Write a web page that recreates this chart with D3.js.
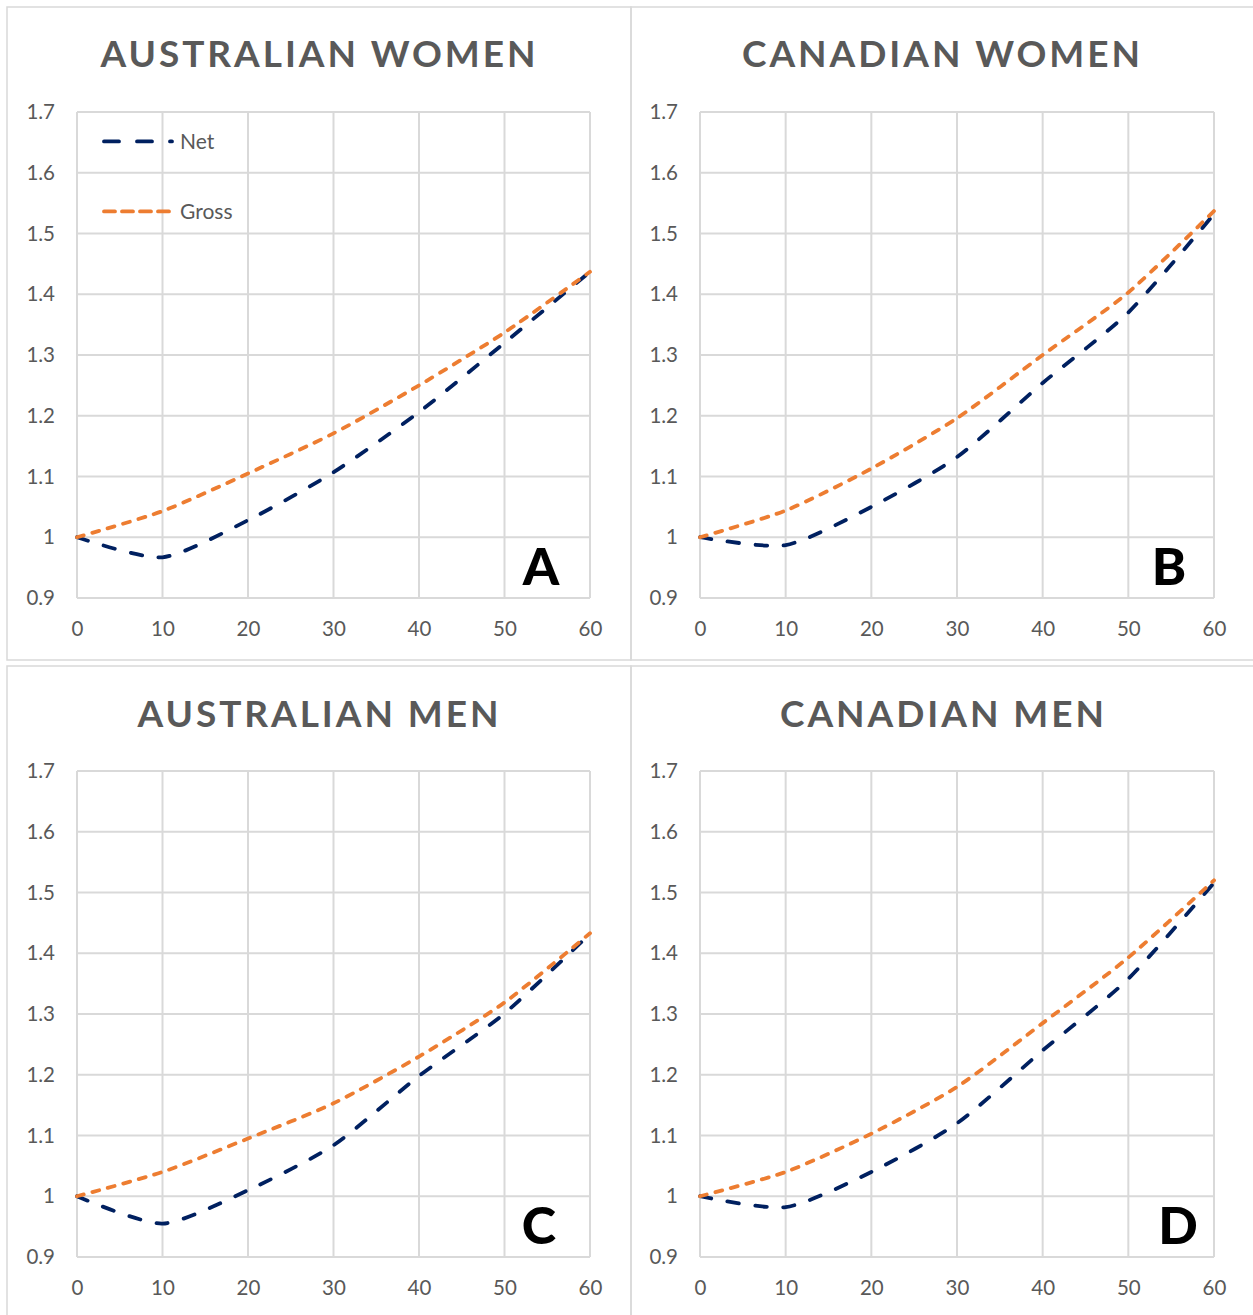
<!DOCTYPE html>
<html>
<head>
<meta charset="utf-8">
<script src="https://cdn.jsdelivr.net/npm/d3@7"></script>
<style>
  body { margin: 0; background: #fff; }
  text { font-family: Lato, "Open Sans", sans-serif; }
</style>
</head>
<body>
<svg id="chart" width="1253" height="1315"></svg>
<script>
// values (x = years, y = ratio)
const years = [0, 10, 20, 30, 40, 50, 60];
const yTicks = [0.9, 1.0, 1.1, 1.2, 1.3, 1.4, 1.5, 1.6, 1.7];
const yTickLabels = ["0.9", "1", "1.1", "1.2", "1.3", "1.4", "1.5", "1.6", "1.7"];
const xTicks = [0, 10, 20, 30, 40, 50, 60];
const seriesNames = ["Net", "Gross"];

const titles = ["AUSTRALIAN WOMEN", "CANADIAN WOMEN", "AUSTRALIAN MEN", "CANADIAN MEN"];
const panelLetters = ["A", "B", "C", "D"];

const ausWomenNet   = [1, 0.967, 1.028, 1.107, 1.206, 1.320, 1.437];
const ausWomenGross = [1, 1.043, 1.105, 1.171, 1.250, 1.337, 1.437];
const canWomenNet   = [1, 0.987, 1.050, 1.132, 1.254, 1.370, 1.532];
const canWomenGross = [1, 1.044, 1.113, 1.196, 1.300, 1.403, 1.537];
const ausMenNet     = [1, 0.955, 1.010, 1.084, 1.198, 1.301, 1.432];
const ausMenGross   = [1, 1.040, 1.095, 1.153, 1.230, 1.319, 1.433];
const canMenNet     = [1, 0.982, 1.040, 1.120, 1.240, 1.358, 1.516];
const canMenGross   = [1, 1.040, 1.103, 1.180, 1.285, 1.393, 1.520];

const panelValues = [
    [ausWomenNet, ausWomenGross],
    [canWomenNet, canWomenGross],
    [ausMenNet, ausMenGross],
    [canMenNet, canMenGross]
];

// layout of the four boxes
const panels = [
    { box: [7, 7, 624, 653],     plot: [77, 112, 590, 598],    titleX: 318, titleY: 67,  titleW: 435, letterX: 541,  legend: true },
    { box: [631, 7, 640, 653],   plot: [700, 112, 1214, 598],  titleX: 941, titleY: 67,  titleW: 398, letterX: 1169, legend: false },
    { box: [7, 666, 624, 660],   plot: [77, 771, 590, 1257],   titleX: 318, titleY: 727, titleW: 361, letterX: 539,  legend: false },
    { box: [631, 666, 640, 660], plot: [700, 771, 1214, 1257], titleX: 942, titleY: 727, titleW: 324, letterX: 1178, legend: false }
];

const textColor = "#595959";
const gridColor = "#d9d9d9";
const lineStyles = [
    { color: "#002060", dash: "11.5,16.5" },
    { color: "#ed7d31", dash: "7,9" }
];

const svg = d3.select("#chart");

panels.forEach((p, i) => {
    const g = svg.append("g");
    const [x0, y0, x1, y1] = p.plot;

    // outer box of the panel
    g.append("rect")
        .attr("x", p.box[0]).attr("y", p.box[1])
        .attr("width", p.box[2]).attr("height", p.box[3])
        .attr("fill", "none").attr("stroke", gridColor).attr("stroke-width", 1.5);

    const x = d3.scaleLinear().domain([0, 60]).range([x0, x1]);
    const y = d3.scaleLinear().domain([0.9, 1.7]).range([y1, y0]);

    // title
    g.append("text")
        .attr("x", p.titleX)
        .attr("y", p.titleY)
        .attr("text-anchor", "middle")
        .attr("font-size", 37)
        .attr("font-weight", 700)
        .attr("fill", textColor)
        .attr("textLength", p.titleW)
        .attr("lengthAdjust", "spacing")
        .text(titles[i]);

    // grid
    g.append("g").selectAll("line")
        .data(yTicks).join("line")
        .attr("x1", x0).attr("x2", x1)
        .attr("y1", d => y(d)).attr("y2", d => y(d))
        .attr("stroke", gridColor).attr("stroke-width", 2);
    g.append("g").selectAll("line")
        .data(xTicks).join("line")
        .attr("x1", d => x(d)).attr("x2", d => x(d))
        .attr("y1", y0).attr("y2", y1)
        .attr("stroke", gridColor).attr("stroke-width", 2);

    // axes (labels only)
    const yAxis = d3.axisLeft(y).tickValues(yTicks)
        .tickFormat((d, k) => yTickLabels[k]).tickSize(0).tickPadding(22);
    const ya = g.append("g").attr("transform", `translate(${x0},0)`).call(yAxis);
    const xAxis = d3.axisBottom(x).tickValues(xTicks).tickSize(0).tickPadding(23);
    const xa = g.append("g").attr("transform", `translate(0,${y1})`).call(xAxis);
    [ya, xa].forEach(a => {
        a.select(".domain").remove();
        a.selectAll("text")
            .attr("font-size", 20.5)
            .attr("fill", textColor)
            .style("font-family", "Lato, 'Open Sans', sans-serif");
    });

    // lines
    const line = d3.line()
        .x((d, k) => x(years[k]))
        .y(d => y(d))
        .curve(d3.curveCardinal.tension(0.3));
    panelValues[i].forEach((vals, s) => {
        g.append("path")
            .datum(vals)
            .attr("d", line)
            .attr("fill", "none")
            .attr("stroke", lineStyles[s].color)
            .attr("stroke-width", 3.8)
            .attr("stroke-linecap", "round")
            .attr("stroke-dasharray", lineStyles[s].dash);
    });

    // panel letter
    g.append("text")
        .attr("x", p.letterX)
        .attr("y", y(0.9) - 13)
        .attr("text-anchor", "middle")
        .attr("font-size", 52)
        .attr("font-weight", 900)
        .attr("fill", "#000")
        .text(panelLetters[i]);

    // legend
    if (p.legend) {
        const lg = g.append("g");
        seriesNames.forEach((name, s) => {
            const ly = y(1.65) + s * 70 - 1;
            lg.append("line")
                .attr("x1", 104).attr("x2", 172)
                .attr("y1", ly).attr("y2", ly)
                .attr("stroke", lineStyles[s].color)
                .attr("stroke-width", 3.8)
                .attr("stroke-linecap", "round")
                .attr("stroke-dasharray", s === 0 ? "15,18" : "11,7");
            lg.append("text")
                .attr("x", 180).attr("y", ly + 8)
                .attr("font-size", 21)
                .attr("fill", textColor)
                .text(name);
        });
    }
});
</script>
</body>
</html>
